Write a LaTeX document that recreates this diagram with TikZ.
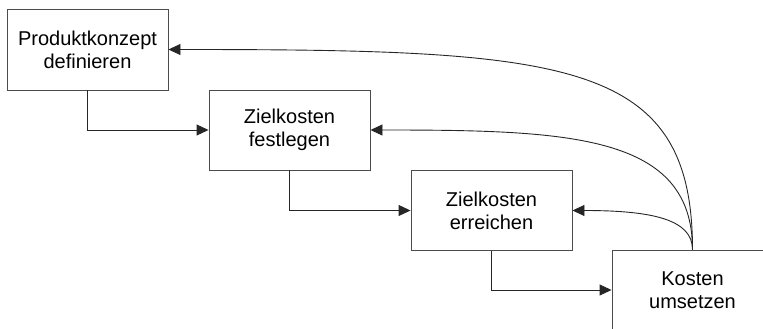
\documentclass[tikz,border=0pt]{standalone}
\usepackage{fontspec}
\setmainfont{Liberation Sans}
\usetikzlibrary{arrows.meta,calc}

\begin{document}
\begin{tikzpicture}[x=1pt,y=-1pt,
  procbox/.style={draw=black!70, line width=0.9pt, fill=white,
    minimum width=161pt, minimum height=80pt, inner sep=0pt,
    align=center, font=\fontsize{20}{23}\selectfont},
  flow/.style={draw=black!85, line width=0.9pt,
    -{Triangle[length=12pt,width=11pt]}}
]
  \useasboundingbox (0,0) rectangle (763,329);
  \clip (0,0) rectangle (763,329);

  % process steps, stepping down to the right
  \node[procbox, minimum height=81pt] (konzept) at (87.5,49.5) {Produktkonzept\\definieren};
  \node[procbox] (festlegen) at (289.5,130) {Zielkosten\\festlegen};
  \node[procbox] (erreichen) at (491.5,210.5) {Zielkosten\\erreichen};
  \node[procbox] (umsetzen) at (692.5,290) {Kosten\\umsetzen};

  % forward links
  \draw[flow] (konzept.south) |- (festlegen.west);
  \draw[flow] (festlegen.south) |- (erreichen.west);
  \draw[flow] (erreichen.south) |- (umsetzen.west);

  % feedback links from the last step
  \draw[flow] (umsetzen.north) .. controls ($(umsetzen.north)+(0,-190)$) and ($(konzept.east)+(400,0)$) .. (konzept.east);
  \draw[flow] (umsetzen.north) .. controls ($(umsetzen.north)+(0,-115)$) and ($(festlegen.east)+(200,0)$) .. (festlegen.east);
  \draw[flow] (umsetzen.north) .. controls ($(umsetzen.north)+(0,-30)$) and ($(erreichen.east)+(80,0)$) .. (erreichen.east);
\end{tikzpicture}
\end{document}
